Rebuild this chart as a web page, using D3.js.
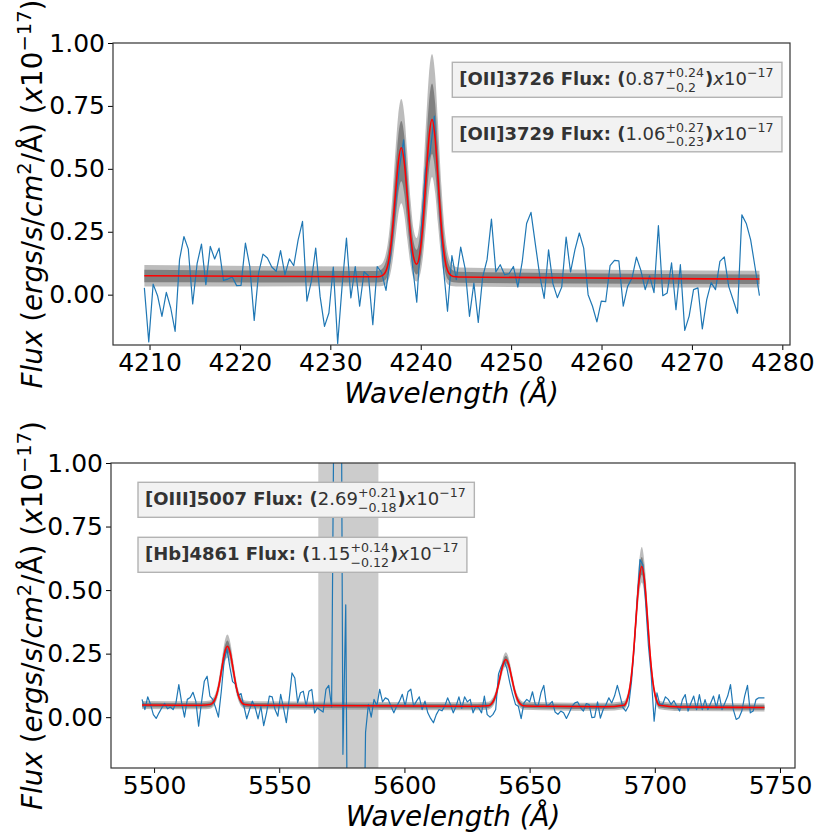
<!DOCTYPE html>
<html>
<head>
<meta charset="utf-8">
<script src="https://cdn.jsdelivr.net/npm/d3@7"></script>
<style>
  body { margin: 0; background: #ffffff; }
  svg { display: block; }
  text { font-family: "DejaVu Sans", sans-serif; }
</style>
</head>
<body>
<svg id="chart" width="820" height="835"></svg>
<script>
// ---------------- DATA ----------------
// Top panel: observed spectrum, uniform wavelength grid (start / step in Angstrom)
const topWaveStart = 4209.43;
const topWaveStep = 0.486;
const topFlux = [
  0.027, -0.188, 0.042, -0.004, -0.086, 0.009, -0.053, -0.146, 0.139, 0.231,
  0.181, -0.037, 0.123, 0.201, 0.040, 0.192, 0.142, 0.185, 0.057, 0.062,
  0.070, 0.036, 0.037, 0.205, 0.112, -0.102, 0.086, 0.161, 0.146, 0.110,
  0.093, 0.175, 0.079, 0.142, 0.115, 0.218, 0.291, -0.026, 0.053, 0.185,
  -0.007, -0.126, -0.073, 0.110, -0.194, 0.033, 0.225, -0.013, 0.112, -0.046,
  0.091, 0.075, -0.119, 0.112, 0.088, 0.017, 0.150, 0.330, 0.500, 0.615,
  0.360, 0.120, -0.030, 0.250, 0.500, 0.560, 0.710, 0.400, 0.120, -0.066,
  0.155, 0.060, 0.189, 0.104, -0.086, 0.046, -0.110, 0.070, 0.139, 0.300,
  0.090, 0.119, 0.079, 0.083, 0.112, 0.030, 0.130, 0.283, 0.327, 0.200,
  0.075, -0.015, 0.178, 0.043, -0.012, 0.030, 0.229, 0.090, 0.178, 0.245,
  0.185, 0.000, -0.046, -0.108, -0.026, -0.028, 0.115, 0.136, 0.134, -0.046,
  0.033, 0.066, 0.149, 0.097, 0.020, 0.075, 0.008, 0.274, -0.004, 0.007,
  0.126, -0.060, 0.119, -0.142, -0.085, 0.020, 0.027, -0.136, -0.020, 0.048,
  0.020, 0.132, 0.150, 0.033, -0.020, -0.074, 0.317, 0.283, 0.218, 0.109, -0.004
];
// Top panel: best-fit model (red) and envelope of the posterior samples (grey)
const topModelWave = [4209.43, 4234.0, 4235.0, 4235.5, 4236.0, 4236.4, 4236.8, 4237.2, 4237.5, 4237.85,
  4238.2, 4238.5, 4238.9, 4239.2, 4239.55, 4239.9, 4240.2, 4240.6, 4240.9, 4241.25,
  4241.6, 4241.9, 4242.3, 4242.7, 4243.1, 4243.6, 4244.2, 4277.47];
const topModelFit = [0.075, 0.071, 0.071, 0.072, 0.084, 0.124, 0.227, 0.396, 0.520, 0.584,
  0.520, 0.396, 0.228, 0.150, 0.121, 0.163, 0.262, 0.467, 0.619, 0.696,
  0.619, 0.467, 0.261, 0.135, 0.086, 0.072, 0.070, 0.062];
const topOuterHi = [0.118, 0.112, 0.112, 0.117, 0.144, 0.215, 0.362, 0.570, 0.710, 0.777,
  0.710, 0.569, 0.366, 0.262, 0.225, 0.295, 0.432, 0.693, 0.871, 0.956,
  0.871, 0.690, 0.427, 0.240, 0.150, 0.116, 0.108, 0.095];
const topOuterLo = [0.032, 0.033, 0.033, 0.033, 0.037, 0.054, 0.112, 0.223, 0.314, 0.363,
  0.314, 0.223, 0.112, 0.066, 0.052, 0.075, 0.137, 0.284, 0.404, 0.468,
  0.404, 0.284, 0.137, 0.061, 0.038, 0.033, 0.032, 0.028];
const topInnerHi = [0.099, 0.094, 0.094, 0.097, 0.117, 0.174, 0.301, 0.492, 0.625, 0.690,
  0.625, 0.491, 0.304, 0.212, 0.178, 0.236, 0.356, 0.591, 0.758, 0.839,
  0.758, 0.590, 0.352, 0.193, 0.121, 0.096, 0.091, 0.080];
const topInnerLo = [0.049, 0.048, 0.048, 0.049, 0.056, 0.082, 0.158, 0.292, 0.396, 0.451,
  0.396, 0.292, 0.158, 0.100, 0.080, 0.110, 0.187, 0.357, 0.490, 0.559,
  0.490, 0.357, 0.187, 0.091, 0.057, 0.049, 0.047, 0.042];
const topTicks = [4210, 4220, 4230, 4240, 4250, 4260, 4270, 4280];
const topLineNames = ["[OII]3726", "[OII]3729"];
const topLineFlux = ["0.87", "1.06"];
const topLineErrUp = ["+0.24", "+0.27"];
const topLineErrDown = ["\u22120.2", "\u22120.23"];

// Bottom panel: observed spectrum
const botWaveStart = 5495.2;
const botWaveStep = 1.13;
const botFlux = [
  0.070, 0.030, 0.080, 0.050, 0.010, -0.005, 0.017, 0.037, 0.054, 0.033,
  0.040, 0.030, 0.057, 0.128, 0.057, 0.000, 0.070, 0.077, 0.098, 0.063,
  -0.035, 0.057, 0.141, 0.161, 0.083, 0.070, 0.037, 0.000, 0.100, 0.220,
  0.270, 0.200, 0.140, 0.130, 0.085, 0.093, 0.043, -0.007, 0.030, 0.063,
  0.037, -0.007, 0.043, -0.033, 0.017, 0.083, 0.080, 0.030, 0.004, 0.090,
  0.037, -0.022, 0.070, 0.174, 0.154, 0.057, 0.096, 0.102, 0.043, 0.102,
  0.109, 0.017, 0.037, 0.028, 0.020, 0.109, 0.125, 0.040, 1.500, 1.300,
  2.500, -0.146, 0.442, -1.200, -1.000, -1.400, -0.800, -1.100, -0.900, -0.060,
  0.050, 0.000, 0.070, 0.045, 0.109, 0.060, 0.076, 0.070, 0.043, 0.017,
  0.043, 0.063, 0.090, 0.043, 0.100, 0.110, 0.043, 0.063, 0.080, 0.030,
  0.063, 0.017, -0.005, -0.022, 0.010, 0.030, 0.025, 0.043, 0.076, 0.050,
  0.017, 0.043, 0.080, 0.035, 0.080, 0.060, 0.070, 0.017, 0.043, 0.037,
  0.017, 0.083, 0.010, 0.000, 0.010, 0.030, 0.170, 0.200, 0.220, 0.190,
  0.135, 0.090, 0.050, 0.043, -0.006, 0.056, 0.070, 0.060, 0.100, 0.050,
  0.043, 0.096, 0.125, 0.043, 0.050, 0.062, 0.020, 0.011, 0.024, 0.017,
  -0.005, 0.017, 0.043, 0.056, 0.060, 0.037, 0.024, 0.053, 0.050, -0.002,
  0.000, 0.060, -0.004, 0.030, 0.050, 0.076, 0.056, 0.083, 0.125, 0.083,
  0.037, 0.024, 0.045, 0.140, 0.280, 0.460, 0.620, 0.600, 0.450, 0.280,
  0.160, -0.016, 0.096, 0.050, 0.050, 0.080, 0.070, 0.050, 0.065, 0.043,
  0.024, 0.069, 0.089, 0.024, 0.056, 0.083, 0.030, 0.089, 0.030, 0.069,
  0.030, 0.056, 0.083, 0.037, 0.089, 0.030, 0.056, 0.083, 0.128, 0.030,
  -0.009, -0.002, 0.024, 0.083, 0.125, 0.017, 0.024, 0.069, 0.076, 0.076, 0.076
];
const botModelWave = [5495.2, 5519.0,
  5522.37, 5523.53, 5524.68, 5525.84, 5526.99, 5528.15, 5529.3, 5530.45, 5531.61, 5532.76, 5533.92, 5535.07, 5536.23,
  5540.0, 5625.0,
  5633.42, 5634.6, 5635.78, 5636.96, 5638.14, 5639.32, 5640.5, 5641.68, 5642.86, 5644.04, 5645.22, 5646.4, 5647.58,
  5655.0, 5680.0,
  5687.66, 5688.85, 5690.04, 5691.23, 5692.42, 5693.61, 5694.8, 5695.99, 5697.18, 5698.37, 5699.56, 5700.75, 5701.94,
  5710.0, 5743.8];
const botModelFit = [0.048, 0.047,
  0.050, 0.057, 0.078, 0.122, 0.188, 0.252, 0.279, 0.252, 0.188, 0.122, 0.078, 0.057, 0.050,
  0.047, 0.043,
  0.045, 0.051, 0.068, 0.103, 0.155, 0.205, 0.227, 0.205, 0.155, 0.103, 0.068, 0.051, 0.045,
  0.043, 0.041,
  0.047, 0.065, 0.116, 0.220, 0.376, 0.528, 0.593, 0.528, 0.376, 0.220, 0.116, 0.065, 0.047,
  0.040, 0.038];
const botOuterHi = [0.064, 0.063,
  0.066, 0.075, 0.099, 0.148, 0.222, 0.294, 0.325, 0.294, 0.222, 0.148, 0.099, 0.075, 0.066,
  0.063, 0.059,
  0.061, 0.068, 0.086, 0.123, 0.178, 0.232, 0.255, 0.232, 0.178, 0.123, 0.086, 0.068, 0.061,
  0.059, 0.057,
  0.064, 0.084, 0.140, 0.256, 0.429, 0.598, 0.670, 0.598, 0.429, 0.256, 0.140, 0.084, 0.064,
  0.056, 0.054];
const botOuterLo = [0.032, 0.031,
  0.033, 0.040, 0.059, 0.097, 0.155, 0.211, 0.235, 0.211, 0.155, 0.097, 0.059, 0.040, 0.033,
  0.031, 0.027,
  0.029, 0.035, 0.050, 0.083, 0.132, 0.180, 0.200, 0.180, 0.132, 0.083, 0.050, 0.035, 0.029,
  0.027, 0.025,
  0.031, 0.047, 0.093, 0.189, 0.331, 0.471, 0.530, 0.471, 0.331, 0.189, 0.093, 0.047, 0.031,
  0.024, 0.022];
const botInnerHi = [0.057, 0.056,
  0.059, 0.067, 0.089, 0.136, 0.205, 0.273, 0.302, 0.273, 0.205, 0.136, 0.089, 0.067, 0.059,
  0.056, 0.052,
  0.054, 0.060, 0.078, 0.114, 0.167, 0.220, 0.242, 0.220, 0.167, 0.114, 0.078, 0.060, 0.054,
  0.052, 0.050,
  0.056, 0.075, 0.128, 0.238, 0.402, 0.562, 0.630, 0.562, 0.402, 0.238, 0.128, 0.075, 0.056,
  0.049, 0.047];
const botInnerLo = [0.039, 0.038,
  0.040, 0.048, 0.067, 0.109, 0.170, 0.230, 0.256, 0.230, 0.170, 0.109, 0.067, 0.048, 0.040,
  0.038, 0.034,
  0.036, 0.042, 0.058, 0.092, 0.142, 0.191, 0.212, 0.191, 0.142, 0.092, 0.058, 0.042, 0.036,
  0.034, 0.032,
  0.038, 0.055, 0.103, 0.203, 0.352, 0.498, 0.560, 0.498, 0.352, 0.203, 0.103, 0.055, 0.038,
  0.031, 0.029];
const botMaskedRange = [5565.6, 5589.6];
const botTicks = [5500, 5550, 5600, 5650, 5700, 5750];
const botLineNames = ["[OIII]5007", "[Hb]4861"];
const botLineFlux = ["2.69", "1.15"];
const botLineErrUp = ["+0.21", "+0.14"];
const botLineErrDown = ["\u22120.18", "\u22120.12"];
const fluxExponent = "\u221217";
const yTicks = [0.0, 0.25, 0.5, 0.75, 1.0];

// ---------------- DRAWING ----------------
const svg = d3.select("#chart");

function drawPanel(cfg) {
  const { left, right, top, bottom, xDomain, wave, flux, mWave, mFit, oHi, oLo, iHi, iLo,
          xTicks, names, vals, ups, dns, annX, annBase, span, id, ylabelX, xlabelY } = cfg;
  const x = d3.scaleLinear().domain(xDomain).range([left, right]);
  const y = d3.scaleLinear().domain([-0.2, 1.0]).range([bottom, top]);
  const g = svg.append("g");

  g.append("clipPath").attr("id", id).append("rect")
    .attr("x", left).attr("y", top).attr("width", right - left).attr("height", bottom - top);
  const plot = g.append("g").attr("clip-path", `url(#${id})`);

  if (span) {
    plot.append("rect")
      .attr("x", x(span[0])).attr("y", top)
      .attr("width", x(span[1]) - x(span[0])).attr("height", bottom - top)
      .attr("fill", "#cccccc");
  }

  const idx = d3.range(mWave.length);
  const area = (hi, lo) => d3.area()
    .x(i => x(mWave[i])).y0(i => y(lo[i])).y1(i => y(hi[i]))
    .curve(d3.curveMonotoneX)(idx);
  plot.append("path").attr("d", area(oHi, oLo)).attr("fill", "#a6a6a6").attr("opacity", 0.75);
  plot.append("path").attr("d", area(iHi, iLo)).attr("fill", "#7c7c7c").attr("opacity", 0.95);

  const dataLine = d3.line().x((d, i) => x(wave[i])).y(d => y(d));
  plot.append("path").attr("d", dataLine(flux))
    .attr("fill", "none").attr("stroke", "#1f77b4").attr("stroke-width", 1.2)
    .attr("stroke-linejoin", "round");

  const fitLine = d3.line().x(i => x(mWave[i])).y(i => y(mFit[i])).curve(d3.curveMonotoneX);
  plot.append("path").attr("d", fitLine(idx))
    .attr("fill", "none").attr("stroke", "#ff0000").attr("stroke-width", 1.6);

  // axes
  const xAxis = d3.axisBottom(x).tickValues(xTicks).tickSize(5).tickPadding(3)
    .tickFormat(d3.format("d"));
  const gx = g.append("g").attr("transform", `translate(0,${bottom})`).call(xAxis);
  const yAxis = d3.axisLeft(y).tickValues(yTicks).tickSize(5).tickPadding(3)
    .tickFormat(d3.format(".2f"));
  const gy = g.append("g").attr("transform", `translate(${left},0)`).call(yAxis);
  [gx, gy].forEach(a => {
    a.select(".domain").remove();
    a.selectAll("text").attr("font-size", 25).attr("fill", "#000")
      .attr("font-family", "DejaVu Sans, sans-serif");
    a.selectAll("line").attr("stroke", "#000").attr("stroke-width", 1);
  });

  g.append("rect").attr("x", left).attr("y", top)
    .attr("width", right - left).attr("height", bottom - top)
    .attr("fill", "none").attr("stroke", "#333333").attr("stroke-width", 1.2);

  // x label
  g.append("text").attr("x", (left + right) / 2).attr("y", xlabelY)
    .attr("text-anchor", "middle").attr("font-size", 27.8).attr("font-style", "italic")
    .text("Wavelength (\u00C5)");

  // y label
  const yl = g.append("text")
    .attr("transform", `translate(${ylabelX},${(top + bottom) / 2}) rotate(-90)`)
    .attr("text-anchor", "middle").attr("font-size", 27.8);
  const parts = [
    ["Flux", "italic"], [" (", "n"], ["ergs", "italic"], ["/", "n"], ["s", "italic"], ["/", "n"],
    ["cm", "italic"], ["2", "sup"], ["/\u00C5) (", "n"], ["x", "italic"], ["10", "n"],
    [fluxExponent, "sup"], [")", "n"]
  ];
  let raised = false;
  parts.forEach(([s, kind]) => {
    const t = yl.append("tspan").text(s);
    if (kind === "italic") t.attr("font-style", "italic");
    if (kind === "sup") { t.attr("font-size", 19.5).attr("dy", -11); raised = true; }
    else if (raised) { t.attr("dy", 11); raised = false; }
  });

  // annotations
  names.forEach((nm, k) => {
    annotate(g, annX, annBase[k], nm, vals[k], ups[k], dns[k]);
  });
}

function annotate(g, x0, base, name, val, up, dn) {
  const fs = 18, ss = fs * 0.7;
  const grp = g.append("g");
  const t = grp.append("text").attr("x", x0).attr("y", base)
    .attr("font-size", fs).attr("fill", "#333333");
  const add = (str, o) => {
    const s = t.append("tspan").text(str);
    if (o.x != null) s.attr("x", o.x);
    if (o.dy) s.attr("dy", o.dy);
    if (o.fs) s.attr("font-size", o.fs);
    if (o.bold) s.attr("font-weight", "bold");
    if (o.italic) s.attr("font-style", "italic");
    return s.node().getComputedTextLength();
  };
  let cx = x0;
  cx += add(name + " Flux: (", { bold: true });
  cx += add(val, {});
  const stackX = cx;
  const w1 = add(up, { fs: ss, dy: -8 });
  const w2 = add(dn, { fs: ss, dy: 14.8, x: stackX });
  cx = stackX + Math.max(w1, w2) + 1;
  cx += add(")", { bold: true, dy: -6.8, x: cx });
  cx += add("x", { italic: true });
  cx += add("10", {});
  cx += add(fluxExponent, { fs: ss, dy: -8 });
  grp.insert("rect", ":first-child")
    .attr("x", x0 - 7).attr("y", base - 22.7)
    .attr("width", cx - x0 + 15.5).attr("height", 35)
    .attr("fill", "#f2f2f2").attr("stroke", "#b3b3b3").attr("stroke-width", 1.4);
}

const topWave = topFlux.map((_, i) => topWaveStart + i * topWaveStep);
const botWave = botFlux.map((_, i) => botWaveStart + i * botWaveStep);

drawPanel({
  id: "clipTop", left: 113, right: 790, top: 43, bottom: 345,
  xDomain: [4205.96, 4280.85], wave: topWave, flux: topFlux,
  mWave: topModelWave, mFit: topModelFit, oHi: topOuterHi, oLo: topOuterLo,
  iHi: topInnerHi, iLo: topInnerLo, xTicks: topTicks,
  names: topLineNames, vals: topLineFlux, ups: topLineErrUp, dns: topLineErrDown,
  annX: 459.3, annBase: [85, 139.5], span: null, ylabelX: 41.5, xlabelY: 403
});
drawPanel({
  id: "clipBot", left: 111, right: 795, top: 463, bottom: 768,
  xDomain: [5482.8, 5756.0], wave: botWave, flux: botFlux,
  mWave: botModelWave, mFit: botModelFit, oHi: botOuterHi, oLo: botOuterLo,
  iHi: botInnerHi, iLo: botInnerLo, xTicks: botTicks,
  names: botLineNames, vals: botLineFlux, ups: botLineErrUp, dns: botLineErrDown,
  annX: 145, annBase: [505, 560], span: botMaskedRange, ylabelX: 41.5, xlabelY: 826
});
</script>
</body>
</html>
